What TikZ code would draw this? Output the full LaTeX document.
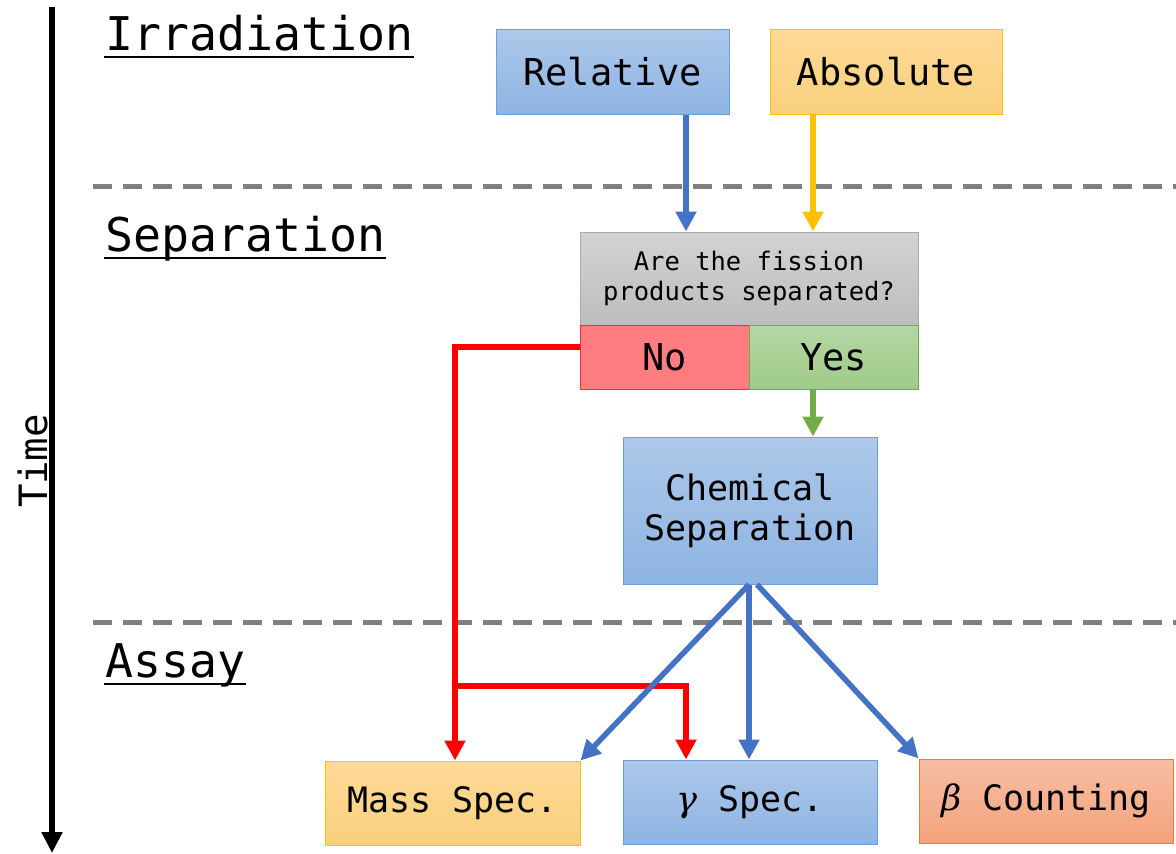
\documentclass[tikz,border=0pt]{standalone}
\usepackage{fontspec}
\setmainfont{DejaVu Sans Mono}
\newfontfamily\grkfont{DejaVu Serif}
\usetikzlibrary{arrows.meta,calc}
\definecolor{blueTop}{HTML}{ADC8EA}
\definecolor{blueBot}{HTML}{8EB4E3}
\definecolor{blueEdge}{HTML}{6A9FDA}
\definecolor{orTop}{HTML}{FFDA98}
\definecolor{orBot}{HTML}{F9D07C}
\definecolor{orEdge}{HTML}{FFC000}
\definecolor{grTop}{HTML}{D3D3D3}
\definecolor{grBot}{HTML}{BDBDBD}
\definecolor{grEdge}{HTML}{ABABAB}
\definecolor{noFill}{HTML}{FF7C80}
\definecolor{noEdge}{HTML}{F03030}
\definecolor{yesTop}{HTML}{B4D7A3}
\definecolor{yesBot}{HTML}{A0CB89}
\definecolor{yesEdge}{HTML}{70AD47}
\definecolor{beTop}{HTML}{F7BEA3}
\definecolor{beBot}{HTML}{F4A27B}
\definecolor{beEdge}{HTML}{ED7D31}
\definecolor{arBlue}{HTML}{4472C4}
\definecolor{arYellow}{HTML}{FFC000}
\definecolor{arGreen}{HTML}{70AD47}
\definecolor{arRed}{HTML}{FF0000}
\definecolor{dashGray}{HTML}{808080}
\tikzset{
  box/.style={draw, line width=1pt, inner sep=0pt, align=center, font=\fontsize{37}{40}\selectfont},
  bluebox/.style={box, draw=blueEdge, top color=blueTop, bottom color=blueBot},
  orbox/.style={box, draw=orEdge, top color=orTop, bottom color=orBot},
  graybox/.style={box, draw=grEdge, top color=grTop, bottom color=grBot},
  nobox/.style={box, draw=noEdge, fill=noFill},
  yesbox/.style={box, draw=yesEdge, top color=yesTop, bottom color=yesBot},
  betabox/.style={box, draw=beEdge, top color=beTop, bottom color=beBot},
  conn/.style={line width=5.5pt, -{Triangle[length=20pt,width=20pt]}},
  heading/.style={anchor=base west, inner sep=0pt, font=\fontsize{46.5}{50}\selectfont},
  uline/.style={line width=2pt, black},
  dashline/.style={line width=5pt, dashGray, dash pattern=on 19pt off 11pt},
}
\begin{document}
\begin{tikzpicture}[x=1pt,y=-1pt]
\useasboundingbox (0,0) rectangle (1176,854);
% time axis
\coordinate (tTop) at (52,7);
\coordinate (tBot) at (52,853);
\draw[line width=6pt, black, -{Triangle[length=21pt,width=20pt]}] (tTop) -- (tBot);
\node[rotate=90, anchor=base, inner sep=0pt, font=\fontsize{39}{42}\selectfont] (time) at (47,461) {Time};
% headings
\node[heading] (h1) at (105,50) {Irradiation};
\node[heading] (h2) at (105,251) {Separation};
\node[heading] (h3) at (105,677) {Assay};
\foreach \h in {h1,h2,h3}{
  \draw[uline] ($(\h.base west)+(-1,7)$) -- ($(\h.base east)+(1,7)$);
}
% dashed separators
\draw[dashline] (93,186) -- (1176,186);
\draw[dashline] (93,622) -- (1176,622);
% boxes
\node[bluebox, minimum width=233pt, minimum height=85pt] (rel) at (612.5,71.5) {Relative};
\node[orbox, minimum width=232pt, minimum height=85pt] (abs) at (886,71.5) {Absolute};
\node[graybox, minimum width=338pt, minimum height=93pt, font=\fontsize{25.5}{30}\selectfont] (q) at (749,278.5) {Are the fission\\products separated?};
\node[nobox, minimum width=169pt, minimum height=64pt] (no) at (664.5,357) {No};
\node[yesbox, minimum width=169pt, minimum height=64pt] (yes) at (833.5,357) {Yes};
\node[bluebox, minimum width=254pt, minimum height=147pt, font=\fontsize{35}{40}\selectfont] (chem) at (750,510.5) {Chemical\\Separation};
\node[orbox, minimum width=255pt, minimum height=84pt, font=\fontsize{35}{40}\selectfont] (mass) at (452.5,803) {Mass Spec.};
\node[bluebox, minimum width=254pt, minimum height=84pt, font=\fontsize{35}{40}\selectfont] (gam) at (750,802) {{\grkfont\itshape γ} Spec.};
\node[betabox, minimum width=254pt, minimum height=84pt, font=\fontsize{35}{40}\selectfont] (beta) at (1046,801) {{\grkfont\itshape β} Counting};
% connectors
\draw[conn, arBlue] (rel.south -| 686,0) -- (q.north -| 686,0);
\draw[conn, arYellow] (abs.south -| 813,0) -- (q.north -| 813,0);
\draw[conn, arGreen] (yes.south -| 813,0) -- (chem.north -| 813,0);
\coordinate (br) at (455,686);
\draw[conn, arRed] ($(no.west)+(0,-10)$) -| (mass.north -| 455,0);
\draw[conn, arRed] (br) -| (gam.north -| 686,0);
\draw[conn, arBlue] (chem.south -| 749,0) -- (mass.north east);
\draw[conn, arBlue] (chem.south -| 749,0) -- (gam.north -| 749,0);
\draw[conn, arBlue] (chem.south -| 757,0) -- (beta.north west);
\end{tikzpicture}
\end{document}
